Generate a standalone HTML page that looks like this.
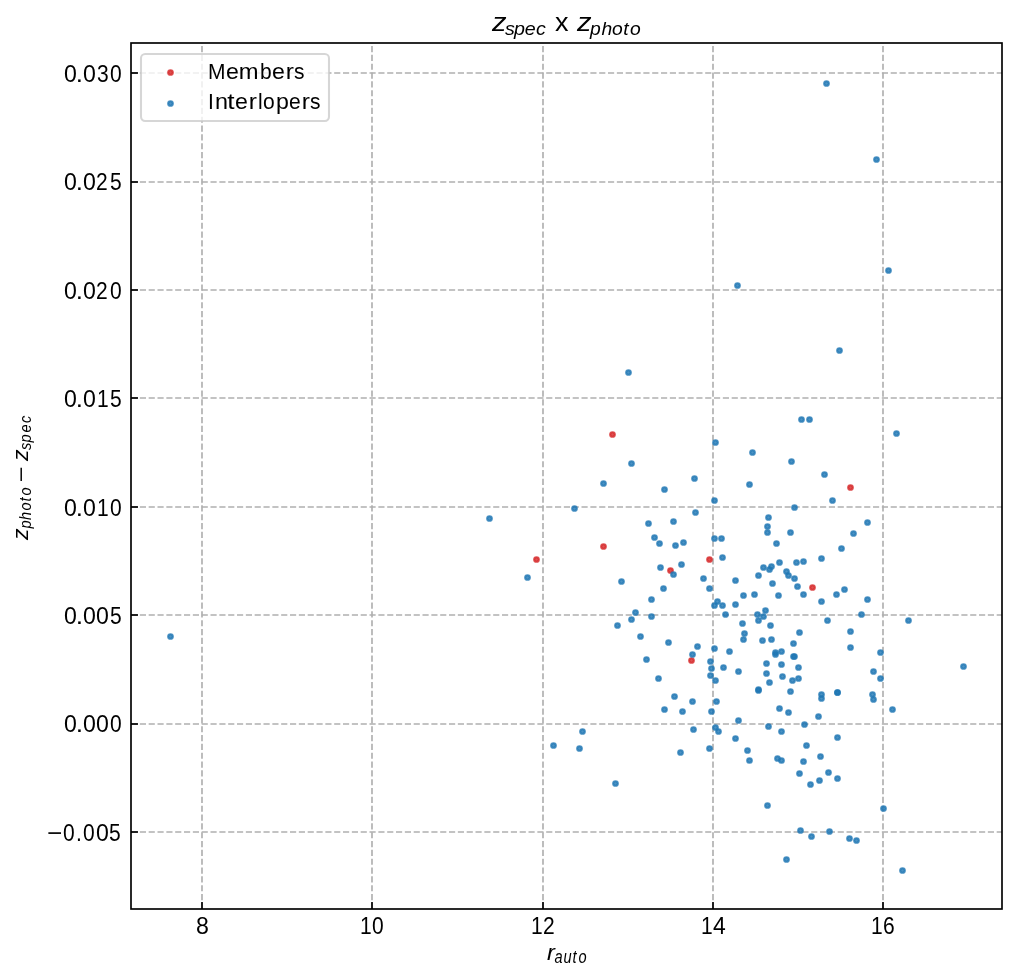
<!DOCTYPE html>
<html><head><meta charset="utf-8"><title>z_spec x z_photo</title>
<style>html,body{margin:0;padding:0;background:#fff;}body{width:1017px;height:980px;overflow:hidden;}svg{display:block;will-change:transform;}</style>
</head><body>
<svg width="1017" height="980" viewBox="0 0 1017 980"><g stroke="#b0b0b0" stroke-width="1.6667" stroke-dasharray="6.1667 2.6667" fill="none"><path d="M202 909V43"/><path d="M372 909V43"/><path d="M543 909V43"/><path d="M713 909V43"/><path d="M883 909V43"/><path d="M131 73H1002"/><path d="M131 182H1002"/><path d="M131 290H1002"/><path d="M131 398H1002"/><path d="M131 507H1002"/><path d="M131 615H1002"/><path d="M131 724H1002"/><path d="M131 832H1002"/></g><g stroke="#000" stroke-width="1.6667" fill="none"><path d="M202 909V902"/><path d="M372 909V902"/><path d="M543 909V902"/><path d="M713 909V902"/><path d="M883 909V902"/><path d="M131 73H138"/><path d="M131 182H138"/><path d="M131 290H138"/><path d="M131 398H138"/><path d="M131 507H138"/><path d="M131 615H138"/><path d="M131 724H138"/><path d="M131 832H138"/></g><g fill="#d62728" fill-opacity="0.8" stroke="#d62728" stroke-opacity="0.8" stroke-width="2.083"><circle cx="612.5" cy="434.5" r="2.329"/><circle cx="536.5" cy="559.5" r="2.329"/><circle cx="603.5" cy="546.5" r="2.329"/><circle cx="850.5" cy="487.5" r="2.329"/><circle cx="709.5" cy="559.5" r="2.329"/><circle cx="670.5" cy="570.5" r="2.329"/><circle cx="812.5" cy="587.5" r="2.329"/><circle cx="691.5" cy="660.5" r="2.329"/></g><g fill="#1f77b4" fill-opacity="0.8" stroke="#1f77b4" stroke-opacity="0.8" stroke-width="2.083"><circle cx="826.5" cy="83.5" r="2.329"/><circle cx="876.5" cy="159.5" r="2.329"/><circle cx="888.5" cy="270.5" r="2.329"/><circle cx="737.5" cy="285.5" r="2.329"/><circle cx="839.5" cy="350.5" r="2.329"/><circle cx="628.5" cy="372.5" r="2.329"/><circle cx="715.5" cy="442.5" r="2.329"/><circle cx="631.5" cy="463.5" r="2.329"/><circle cx="603.5" cy="483.5" r="2.329"/><circle cx="694.5" cy="478.5" r="2.329"/><circle cx="664.5" cy="489.5" r="2.329"/><circle cx="714.5" cy="500.5" r="2.329"/><circle cx="695.5" cy="512.5" r="2.329"/><circle cx="648.5" cy="523.5" r="2.329"/><circle cx="673.5" cy="521.5" r="2.329"/><circle cx="489.5" cy="518.5" r="2.329"/><circle cx="574.5" cy="508.5" r="2.329"/><circle cx="527.5" cy="577.5" r="2.329"/><circle cx="621.5" cy="581.5" r="2.329"/><circle cx="170.5" cy="636.5" r="2.329"/><circle cx="617.5" cy="625.5" r="2.329"/><circle cx="582.5" cy="731.5" r="2.329"/><circle cx="553.5" cy="745.5" r="2.329"/><circle cx="579.5" cy="748.5" r="2.329"/><circle cx="615.5" cy="783.5" r="2.329"/><circle cx="801.5" cy="419.5" r="2.329"/><circle cx="809.5" cy="419.5" r="2.329"/><circle cx="752.5" cy="452.5" r="2.329"/><circle cx="791.5" cy="461.5" r="2.329"/><circle cx="824.5" cy="474.5" r="2.329"/><circle cx="749.5" cy="484.5" r="2.329"/><circle cx="832.5" cy="500.5" r="2.329"/><circle cx="794.5" cy="507.5" r="2.329"/><circle cx="768.5" cy="517.5" r="2.329"/><circle cx="896.5" cy="433.5" r="2.329"/><circle cx="867.5" cy="522.5" r="2.329"/><circle cx="654.5" cy="537.5" r="2.329"/><circle cx="659.5" cy="543.5" r="2.329"/><circle cx="675.5" cy="545.5" r="2.329"/><circle cx="683.5" cy="542.5" r="2.329"/><circle cx="714.5" cy="538.5" r="2.329"/><circle cx="681.5" cy="564.5" r="2.329"/><circle cx="660.5" cy="567.5" r="2.329"/><circle cx="673.5" cy="574.5" r="2.329"/><circle cx="703.5" cy="578.5" r="2.329"/><circle cx="709.5" cy="588.5" r="2.329"/><circle cx="663.5" cy="588.5" r="2.329"/><circle cx="651.5" cy="599.5" r="2.329"/><circle cx="635.5" cy="612.5" r="2.329"/><circle cx="651.5" cy="616.5" r="2.329"/><circle cx="631.5" cy="619.5" r="2.329"/><circle cx="640.5" cy="636.5" r="2.329"/><circle cx="668.5" cy="642.5" r="2.329"/><circle cx="697.5" cy="646.5" r="2.329"/><circle cx="714.5" cy="648.5" r="2.329"/><circle cx="767.5" cy="526.5" r="2.329"/><circle cx="767.5" cy="532.5" r="2.329"/><circle cx="790.5" cy="532.5" r="2.329"/><circle cx="721.5" cy="538.5" r="2.329"/><circle cx="776.5" cy="543.5" r="2.329"/><circle cx="722.5" cy="557.5" r="2.329"/><circle cx="821.5" cy="558.5" r="2.329"/><circle cx="779.5" cy="562.5" r="2.329"/><circle cx="796.5" cy="562.5" r="2.329"/><circle cx="803.5" cy="561.5" r="2.329"/><circle cx="763.5" cy="567.5" r="2.329"/><circle cx="771.5" cy="566.5" r="2.329"/><circle cx="769.5" cy="569.5" r="2.329"/><circle cx="786.5" cy="571.5" r="2.329"/><circle cx="788.5" cy="575.5" r="2.329"/><circle cx="794.5" cy="578.5" r="2.329"/><circle cx="758.5" cy="575.5" r="2.329"/><circle cx="735.5" cy="580.5" r="2.329"/><circle cx="772.5" cy="583.5" r="2.329"/><circle cx="797.5" cy="586.5" r="2.329"/><circle cx="743.5" cy="595.5" r="2.329"/><circle cx="754.5" cy="594.5" r="2.329"/><circle cx="778.5" cy="595.5" r="2.329"/><circle cx="803.5" cy="594.5" r="2.329"/><circle cx="836.5" cy="594.5" r="2.329"/><circle cx="717.5" cy="601.5" r="2.329"/><circle cx="714.5" cy="605.5" r="2.329"/><circle cx="722.5" cy="605.5" r="2.329"/><circle cx="735.5" cy="604.5" r="2.329"/><circle cx="821.5" cy="601.5" r="2.329"/><circle cx="725.5" cy="614.5" r="2.329"/><circle cx="765.5" cy="610.5" r="2.329"/><circle cx="757.5" cy="614.5" r="2.329"/><circle cx="763.5" cy="616.5" r="2.329"/><circle cx="758.5" cy="620.5" r="2.329"/><circle cx="742.5" cy="623.5" r="2.329"/><circle cx="770.5" cy="625.5" r="2.329"/><circle cx="827.5" cy="620.5" r="2.329"/><circle cx="744.5" cy="633.5" r="2.329"/><circle cx="743.5" cy="639.5" r="2.329"/><circle cx="762.5" cy="640.5" r="2.329"/><circle cx="771.5" cy="639.5" r="2.329"/><circle cx="799.5" cy="632.5" r="2.329"/><circle cx="793.5" cy="643.5" r="2.329"/><circle cx="853.5" cy="533.5" r="2.329"/><circle cx="841.5" cy="548.5" r="2.329"/><circle cx="844.5" cy="589.5" r="2.329"/><circle cx="867.5" cy="599.5" r="2.329"/><circle cx="861.5" cy="614.5" r="2.329"/><circle cx="908.5" cy="620.5" r="2.329"/><circle cx="850.5" cy="631.5" r="2.329"/><circle cx="850.5" cy="647.5" r="2.329"/><circle cx="646.5" cy="659.5" r="2.329"/><circle cx="692.5" cy="654.5" r="2.329"/><circle cx="710.5" cy="661.5" r="2.329"/><circle cx="711.5" cy="668.5" r="2.329"/><circle cx="710.5" cy="675.5" r="2.329"/><circle cx="715.5" cy="680.5" r="2.329"/><circle cx="658.5" cy="678.5" r="2.329"/><circle cx="674.5" cy="696.5" r="2.329"/><circle cx="692.5" cy="701.5" r="2.329"/><circle cx="716.5" cy="701.5" r="2.329"/><circle cx="664.5" cy="709.5" r="2.329"/><circle cx="682.5" cy="711.5" r="2.329"/><circle cx="711.5" cy="711.5" r="2.329"/><circle cx="693.5" cy="729.5" r="2.329"/><circle cx="715.5" cy="727.5" r="2.329"/><circle cx="718.5" cy="731.5" r="2.329"/><circle cx="709.5" cy="748.5" r="2.329"/><circle cx="680.5" cy="752.5" r="2.329"/><circle cx="729.5" cy="651.5" r="2.329"/><circle cx="775.5" cy="652.5" r="2.329"/><circle cx="775.5" cy="654.5" r="2.329"/><circle cx="781.5" cy="651.5" r="2.329"/><circle cx="793.5" cy="656.5" r="2.329"/><circle cx="794.5" cy="656.5" r="2.329"/><circle cx="723.5" cy="667.5" r="2.329"/><circle cx="738.5" cy="671.5" r="2.329"/><circle cx="766.5" cy="663.5" r="2.329"/><circle cx="781.5" cy="664.5" r="2.329"/><circle cx="798.5" cy="667.5" r="2.329"/><circle cx="766.5" cy="673.5" r="2.329"/><circle cx="782.5" cy="676.5" r="2.329"/><circle cx="792.5" cy="680.5" r="2.329"/><circle cx="798.5" cy="678.5" r="2.329"/><circle cx="769.5" cy="682.5" r="2.329"/><circle cx="758.5" cy="689.5" r="2.329"/><circle cx="758.5" cy="690.5" r="2.329"/><circle cx="790.5" cy="691.5" r="2.329"/><circle cx="821.5" cy="694.5" r="2.329"/><circle cx="821.5" cy="698.5" r="2.329"/><circle cx="837.5" cy="692.5" r="2.329"/><circle cx="837.5" cy="692.5" r="2.329"/><circle cx="779.5" cy="708.5" r="2.329"/><circle cx="788.5" cy="712.5" r="2.329"/><circle cx="818.5" cy="716.5" r="2.329"/><circle cx="738.5" cy="720.5" r="2.329"/><circle cx="768.5" cy="726.5" r="2.329"/><circle cx="804.5" cy="724.5" r="2.329"/><circle cx="781.5" cy="731.5" r="2.329"/><circle cx="837.5" cy="737.5" r="2.329"/><circle cx="735.5" cy="738.5" r="2.329"/><circle cx="806.5" cy="745.5" r="2.329"/><circle cx="747.5" cy="750.5" r="2.329"/><circle cx="777.5" cy="758.5" r="2.329"/><circle cx="781.5" cy="760.5" r="2.329"/><circle cx="749.5" cy="760.5" r="2.329"/><circle cx="803.5" cy="761.5" r="2.329"/><circle cx="820.5" cy="756.5" r="2.329"/><circle cx="880.5" cy="652.5" r="2.329"/><circle cx="873.5" cy="671.5" r="2.329"/><circle cx="880.5" cy="678.5" r="2.329"/><circle cx="872.5" cy="694.5" r="2.329"/><circle cx="873.5" cy="699.5" r="2.329"/><circle cx="892.5" cy="709.5" r="2.329"/><circle cx="963.5" cy="666.5" r="2.329"/><circle cx="799.5" cy="773.5" r="2.329"/><circle cx="828.5" cy="772.5" r="2.329"/><circle cx="837.5" cy="778.5" r="2.329"/><circle cx="819.5" cy="780.5" r="2.329"/><circle cx="810.5" cy="784.5" r="2.329"/><circle cx="767.5" cy="805.5" r="2.329"/><circle cx="800.5" cy="830.5" r="2.329"/><circle cx="829.5" cy="831.5" r="2.329"/><circle cx="811.5" cy="836.5" r="2.329"/><circle cx="786.5" cy="859.5" r="2.329"/><circle cx="883.5" cy="808.5" r="2.329"/><circle cx="849.5" cy="838.5" r="2.329"/><circle cx="856.5" cy="840.5" r="2.329"/><circle cx="902.5" cy="870.5" r="2.329"/></g><rect x="131" y="43" width="871" height="866" fill="none" stroke="#000" stroke-width="1.6667" stroke-linejoin="miter"/><text y="0" transform="matrix(1 0 0 1.1429 0 934.000)" font-family="'Liberation Sans', sans-serif" font-size="21"><tspan x="195.90" textLength="12.86" lengthAdjust="spacingAndGlyphs">8</tspan></text><text x="360.00 372.00" y="0" transform="matrix(1.0000 0 0 1.1429 0 934.000)" font-family="'Liberation Sans', sans-serif" font-size="21">10</text><text x="531.00 543.00" y="0" transform="matrix(1.0000 0 0 1.1429 0 934.000)" font-family="'Liberation Sans', sans-serif" font-size="21">12</text><text y="0" transform="matrix(1 0 0 1.1429 0 934.000)" font-family="'Liberation Sans', sans-serif" font-size="21"><tspan x="701.00" textLength="11.69" lengthAdjust="spacingAndGlyphs">1</tspan><tspan x="713.00" textLength="12.75" lengthAdjust="spacingAndGlyphs">4</tspan></text><text x="871.00 883.00" y="0" transform="matrix(1.0000 0 0 1.1429 0 934.000)" font-family="'Liberation Sans', sans-serif" font-size="21">16</text><text y="0" transform="matrix(1 0 0 1.1429 0 82.000)" font-family="'Liberation Sans', sans-serif" font-size="21"><tspan x="63.90" textLength="12.86" lengthAdjust="spacingAndGlyphs">0</tspan><tspan x="75.80" textLength="7.20" lengthAdjust="spacingAndGlyphs">.</tspan><tspan x="82.90" textLength="12.86" lengthAdjust="spacingAndGlyphs">0</tspan><tspan x="97.00" textLength="11.69" lengthAdjust="spacingAndGlyphs">3</tspan><tspan x="110.00" textLength="11.69" lengthAdjust="spacingAndGlyphs">0</tspan></text><text y="0" transform="matrix(1 0 0 1.1429 0 190.000)" font-family="'Liberation Sans', sans-serif" font-size="21"><tspan x="63.90" textLength="12.86" lengthAdjust="spacingAndGlyphs">0</tspan><tspan x="75.80" textLength="7.20" lengthAdjust="spacingAndGlyphs">.</tspan><tspan x="82.90" textLength="12.86" lengthAdjust="spacingAndGlyphs">0</tspan><tspan x="96.00" textLength="11.69" lengthAdjust="spacingAndGlyphs">2</tspan><tspan x="110.00" textLength="11.69" lengthAdjust="spacingAndGlyphs">5</tspan></text><text y="0" transform="matrix(1 0 0 1.1429 0 299.000)" font-family="'Liberation Sans', sans-serif" font-size="21"><tspan x="63.90" textLength="12.86" lengthAdjust="spacingAndGlyphs">0</tspan><tspan x="75.80" textLength="7.20" lengthAdjust="spacingAndGlyphs">.</tspan><tspan x="82.90" textLength="12.86" lengthAdjust="spacingAndGlyphs">0</tspan><tspan x="96.00" textLength="11.69" lengthAdjust="spacingAndGlyphs">2</tspan><tspan x="110.00" textLength="11.69" lengthAdjust="spacingAndGlyphs">0</tspan></text><text y="0" transform="matrix(1 0 0 1.1429 0 407.000)" font-family="'Liberation Sans', sans-serif" font-size="21"><tspan x="63.90" textLength="12.86" lengthAdjust="spacingAndGlyphs">0</tspan><tspan x="75.80" textLength="7.20" lengthAdjust="spacingAndGlyphs">.</tspan><tspan x="82.90" textLength="12.86" lengthAdjust="spacingAndGlyphs">0</tspan><tspan x="97.00" textLength="11.69" lengthAdjust="spacingAndGlyphs">1</tspan><tspan x="110.00" textLength="11.69" lengthAdjust="spacingAndGlyphs">5</tspan></text><text y="0" transform="matrix(1 0 0 1.1429 0 516.000)" font-family="'Liberation Sans', sans-serif" font-size="21"><tspan x="63.90" textLength="12.86" lengthAdjust="spacingAndGlyphs">0</tspan><tspan x="75.80" textLength="7.20" lengthAdjust="spacingAndGlyphs">.</tspan><tspan x="82.90" textLength="12.86" lengthAdjust="spacingAndGlyphs">0</tspan><tspan x="97.00" textLength="11.69" lengthAdjust="spacingAndGlyphs">1</tspan><tspan x="110.00" textLength="11.69" lengthAdjust="spacingAndGlyphs">0</tspan></text><text y="0" transform="matrix(1 0 0 1.1429 0 624.000)" font-family="'Liberation Sans', sans-serif" font-size="21"><tspan x="63.90" textLength="12.86" lengthAdjust="spacingAndGlyphs">0</tspan><tspan x="75.72" textLength="7.36" lengthAdjust="spacingAndGlyphs">.</tspan><tspan x="82.90" textLength="12.86" lengthAdjust="spacingAndGlyphs">0</tspan><tspan x="95.90" textLength="12.86" lengthAdjust="spacingAndGlyphs">0</tspan><tspan x="110.00" textLength="11.69" lengthAdjust="spacingAndGlyphs">5</tspan></text><text y="0" transform="matrix(1 0 0 1.1429 0 732.000)" font-family="'Liberation Sans', sans-serif" font-size="21"><tspan x="63.90" textLength="12.86" lengthAdjust="spacingAndGlyphs">0</tspan><tspan x="75.72" textLength="7.36" lengthAdjust="spacingAndGlyphs">.</tspan><tspan x="82.90" textLength="12.86" lengthAdjust="spacingAndGlyphs">0</tspan><tspan x="95.90" textLength="12.86" lengthAdjust="spacingAndGlyphs">0</tspan><tspan x="110.00" textLength="11.69" lengthAdjust="spacingAndGlyphs">0</tspan></text><text y="0" transform="matrix(1 0 0 1.1429 0 841.000)" font-family="'Liberation Sans', sans-serif" font-size="21"><tspan x="47.07" textLength="15.19" lengthAdjust="spacingAndGlyphs">−</tspan><tspan x="63.00" textLength="11.69" lengthAdjust="spacingAndGlyphs">0</tspan><tspan x="76.00" textLength="5.84" lengthAdjust="spacingAndGlyphs">.</tspan><tspan x="83.00" textLength="11.69" lengthAdjust="spacingAndGlyphs">0</tspan><tspan x="95.90" textLength="12.86" lengthAdjust="spacingAndGlyphs">0</tspan><tspan x="109.00" textLength="11.69" lengthAdjust="spacingAndGlyphs">5</tspan></text><text y="0" transform="matrix(1 0 0 1.0000 0 31.000)" font-family="'Liberation Sans', sans-serif" font-size="25" font-style="italic"><tspan x="492.00" textLength="14.58" lengthAdjust="spacingAndGlyphs">z</tspan></text><text x="448.89 456.83 466.56 476.39" y="0" transform="matrix(1.1250 0 0 1.0000 0 35.000)" font-family="'Liberation Sans', sans-serif" font-size="17.5" font-style="italic">spec</text><text x="512.31" y="0" transform="matrix(1.0833 0 0 1.0000 0 31.000)" font-family="'Liberation Sans', sans-serif" font-size="25">x</text><text y="0" transform="matrix(1 0 0 1.0000 0 31.000)" font-family="'Liberation Sans', sans-serif" font-size="25" font-style="italic"><tspan x="577.00" textLength="14.58" lengthAdjust="spacingAndGlyphs">z</tspan></text><text x="535.15 545.58 555.06 565.17 571.38" y="0" transform="matrix(1.1026 0 0 1.0588 0 34.765)" font-family="'Liberation Sans', sans-serif" font-size="17.5" font-style="italic">photo</text><text x="486.22" y="0" transform="matrix(1.1250 0 0 1.0909 0 960.000)" font-family="'Liberation Sans', sans-serif" font-size="21" font-style="italic">r</text><text x="554.50 563.50 572.50 578.50" y="0" transform="matrix(1.0000 0 0 1.2000 0 963.000)" font-family="'Liberation Sans', sans-serif" font-size="14.6" font-style="italic">auto</text><text x="-490.91" y="0" transform="matrix(0 -1.1000 1.0909 0 28.000 0)" font-family="'Liberation Sans', sans-serif" font-size="21" font-style="italic">z</text><text x="-528.50 -520.00 -510.50 -501.50 -495.50" y="0" transform="matrix(0 -1.0000 1.0714 0 30.786 0)" font-family="'Liberation Sans', sans-serif" font-size="14.6" font-style="italic">photo</text><text y="0" transform="matrix(0 -1 1.0000 0 28.000 0)" font-family="'Liberation Sans', sans-serif" font-size="21"><tspan x="-482.30" textLength="15.95" lengthAdjust="spacingAndGlyphs">−</tspan></text><text x="-419.09" y="0" transform="matrix(0 -1.1000 1.0909 0 28.000 0)" font-family="'Liberation Sans', sans-serif" font-size="21" font-style="italic">z</text><text x="-450.00 -442.50 -432.50 -423.00" y="0" transform="matrix(0 -1.0000 1.0909 0 30.727 0)" font-family="'Liberation Sans', sans-serif" font-size="14.6" font-style="italic">spec</text><rect x="141" y="54" width="188" height="67" rx="4.167" ry="4.167" fill="#fff" fill-opacity="0.8" stroke="#ccc" stroke-opacity="0.8" stroke-width="2.083"/><circle cx="170.5" cy="72.5" r="2.329" fill="#d62728" fill-opacity="0.8" stroke="#d62728" stroke-opacity="0.8" stroke-width="2.083"/><circle cx="170.5" cy="103.5" r="2.329" fill="#1f77b4" fill-opacity="0.8" stroke="#1f77b4" stroke-opacity="0.8" stroke-width="2.083"/><text y="0" transform="matrix(1 0 0 1.0667 0 79.000)" font-family="'Liberation Sans', sans-serif" font-size="21"><tspan x="208.00" textLength="17.50" lengthAdjust="spacingAndGlyphs">M</tspan><tspan x="225.90" textLength="12.86" lengthAdjust="spacingAndGlyphs">e</tspan><tspan x="238.87" textLength="19.83" lengthAdjust="spacingAndGlyphs">m</tspan><tspan x="260.00" textLength="11.69" lengthAdjust="spacingAndGlyphs">b</tspan><tspan x="271.90" textLength="12.86" lengthAdjust="spacingAndGlyphs">e</tspan><tspan x="285.83" textLength="8.17" lengthAdjust="spacingAndGlyphs">r</tspan><tspan x="294.00" textLength="10.50" lengthAdjust="spacingAndGlyphs">s</tspan></text><text y="0" transform="matrix(1 0 0 1.0526 0 108.789)" font-family="'Liberation Sans', sans-serif" font-size="21"><tspan x="208.00" textLength="5.84" lengthAdjust="spacingAndGlyphs">I</tspan><tspan x="214.89" textLength="12.99" lengthAdjust="spacingAndGlyphs">n</tspan><tspan x="227.25" textLength="7.31" lengthAdjust="spacingAndGlyphs">t</tspan><tspan x="234.90" textLength="12.86" lengthAdjust="spacingAndGlyphs">e</tspan><tspan x="248.83" textLength="8.17" lengthAdjust="spacingAndGlyphs">r</tspan><tspan x="258.00" textLength="4.67" lengthAdjust="spacingAndGlyphs">l</tspan><tspan x="263.00" textLength="11.69" lengthAdjust="spacingAndGlyphs">o</tspan><tspan x="275.90" textLength="12.86" lengthAdjust="spacingAndGlyphs">p</tspan><tspan x="289.00" textLength="11.69" lengthAdjust="spacingAndGlyphs">e</tspan><tspan x="301.83" textLength="8.17" lengthAdjust="spacingAndGlyphs">r</tspan><tspan x="310.00" textLength="10.50" lengthAdjust="spacingAndGlyphs">s</tspan></text></svg>
</body></html>
